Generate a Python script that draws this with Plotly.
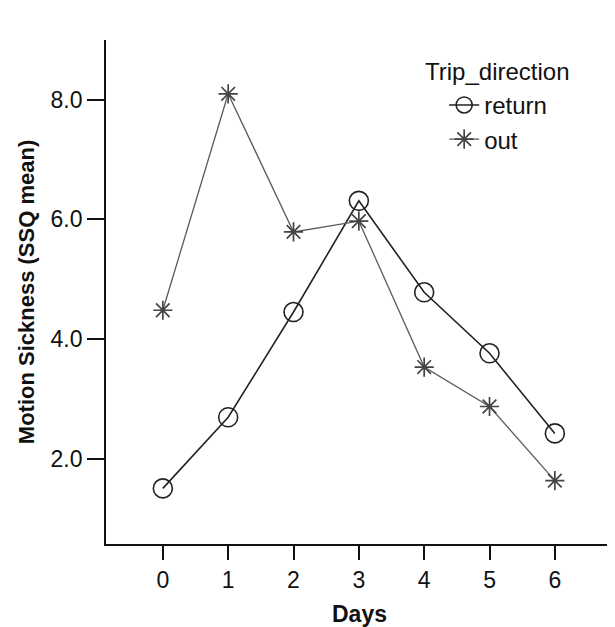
import plotly.graph_objects as go

days = [0, 1, 2, 3, 4, 5, 6]
return_vals = [1.50, 2.69, 4.45, 6.31, 4.78, 3.76, 2.42]
out_vals = [4.48, 8.10, 5.79, 5.97, 3.53, 2.87, 1.63]
y_ticks = [2, 4, 6, 8]

FONT = "Liberation Sans, Arial, sans-serif"

fig = go.Figure()
fig.add_trace(go.Scatter(
    x=days, y=return_vals, name="return", mode="lines+markers",
    line=dict(color="#222222", width=1.6),
    marker=dict(symbol="circle-open", size=19, color="#222222", line=dict(width=1.6)),
))
fig.add_trace(go.Scatter(
    x=days, y=out_vals, name="out", mode="lines+markers",
    line=dict(color="#5a5a5a", width=1.3),
    marker=dict(symbol="asterisk-open", size=16, color="#444444", line=dict(width=1.7)),
))

fig.add_annotation(
    text="Trip_direction", xref="paper", yref="paper",
    x=(415 - 98) / 507, y=1 - (63 - 32) / 504, xanchor="left", yanchor="middle",
    showarrow=False, font=dict(family=FONT, size=24, color="#111111"),
)

fig.update_layout(
    width=607, height=619,
    margin=dict(l=98, r=2, t=32, b=83),
    paper_bgcolor="white", plot_bgcolor="white",
    font=dict(family=FONT, size=23, color="#111111"),
    showlegend=True,
    legend=dict(
        x=0.667, y=0.915, xanchor="left", yanchor="top",
        bgcolor="rgba(0,0,0,0)", font=dict(size=24, color="#111111"),
        tracegroupgap=0, itemwidth=30,
    ),
    xaxis=dict(
        range=[-0.87, 6.89], tickvals=days, ticks="outside", ticklen=14, tickwidth=1.6,
        tickcolor="#111111", showline=True, linecolor="#111111", linewidth=1.8,
        showgrid=False, zeroline=False, tickfont=dict(size=23), automargin=False,
        title=dict(text="<b>Days</b>", font=dict(size=23), standoff=14),
    ),
    yaxis=dict(
        range=[0.57, 9.0], tickvals=y_ticks, tickformat=".1f", ticks="outside", ticklen=17,
        tickwidth=1.6, tickcolor="#111111", showline=True, linecolor="#111111", linewidth=1.8,
        showgrid=False, zeroline=False, tickfont=dict(size=23), automargin=False,
        title=dict(text="<b>Motion Sickness (SSQ mean)</b>", font=dict(size=22), standoff=10),
    ),
)

fig.write_html("out.html")
